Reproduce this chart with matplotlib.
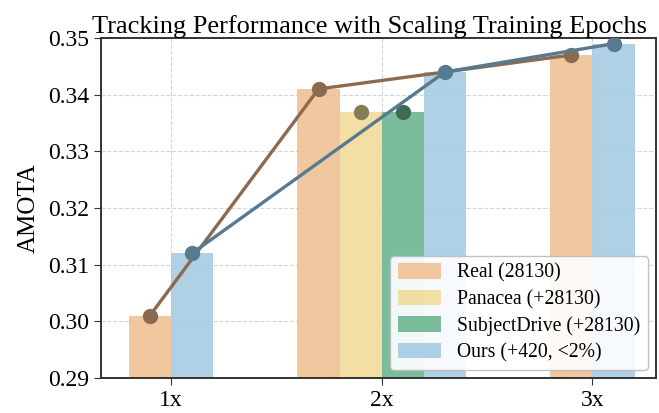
import numpy as np
import matplotlib
matplotlib.use("Agg")
import matplotlib.pyplot as plt

# data
epochs = ["1x", "2x", "3x"]
real = [0.301, 0.341, 0.347]
panacea = [None, 0.337, None]
subjectdrive = [None, 0.337, None]
ours = [0.312, 0.344, 0.349]

labels = ["Real (28130)", "Panacea (+28130)", "SubjectDrive (+28130)", "Ours (+420, <2%)"]
bar_colors = ["#EFC195", "#F2DC9A", "#6DB592", "#A7CBE3"]
line_colors = ["#8C6A4F", "#857B57", "#3F6A58", "#577A90"]

plt.rcParams["font.family"] = ["Liberation Serif", "DejaVu Serif"]

fig, ax = plt.subplots(figsize=(6.59, 4.13), dpi=100)
w = 0.2
x = np.arange(1, len(epochs) + 1)
series = [real, panacea, subjectdrive, ours]

# offsets: at 2x four bars, at 1x / 3x only Real and Ours
pos = {}
for i in range(len(epochs)):
    present = [k for k, s in enumerate(series) if s[i] is not None]
    n = len(present)
    for j, k in enumerate(present):
        pos[(k, i)] = x[i] + (j - (n - 1) / 2) * w

for k, s in enumerate(series):
    xs = [pos[(k, i)] for i in range(len(epochs)) if s[i] is not None]
    ys = [s[i] for i in range(len(epochs)) if s[i] is not None]
    ax.bar(xs, ys, width=w, color=bar_colors[k], alpha=0.9, label=labels[k], zorder=2)

for k, s in enumerate(series):
    xs = [pos[(k, i)] for i in range(len(epochs)) if s[i] is not None]
    ys = [s[i] for i in range(len(epochs)) if s[i] is not None]
    ax.plot(xs, ys, color=line_colors[k], lw=2.4, marker="o", markersize=10, zorder=3)

ax.set_ylim(0.29, 0.35)
ax.set_xlim(0.667, 3.3)
ax.set_xticks(x)
ax.set_xticklabels(epochs)
ax.set_yticks([0.29, 0.30, 0.31, 0.32, 0.33, 0.34, 0.35])
ax.set_yticklabels(["0.29", "0.30", "0.31", "0.32", "0.33", "0.34", "0.35"])
ax.tick_params(labelsize=17, length=5, color="#333333")
ax.grid(True, ls="--", color="#d5d5d5", lw=0.8, zorder=0)
ax.set_axisbelow(True)
for sp in ax.spines.values():
    sp.set_color("#333333")
    sp.set_linewidth(1.4)

ax.set_ylabel("AMOTA", fontsize=18, labelpad=6)
ax.set_title("Tracking Performance with Scaling Training Epochs", fontsize=19, pad=3, x=0.485)
ax.legend(loc="lower right", fontsize=14.2, framealpha=0.9, edgecolor="#bbbbbb",
          handlelength=2.2, handleheight=0.8, borderaxespad=0.4, labelspacing=0.35)

fig.subplots_adjust(left=0.153, right=0.995, bottom=0.085, top=0.908)
fig.savefig("out.png", dpi=100)
